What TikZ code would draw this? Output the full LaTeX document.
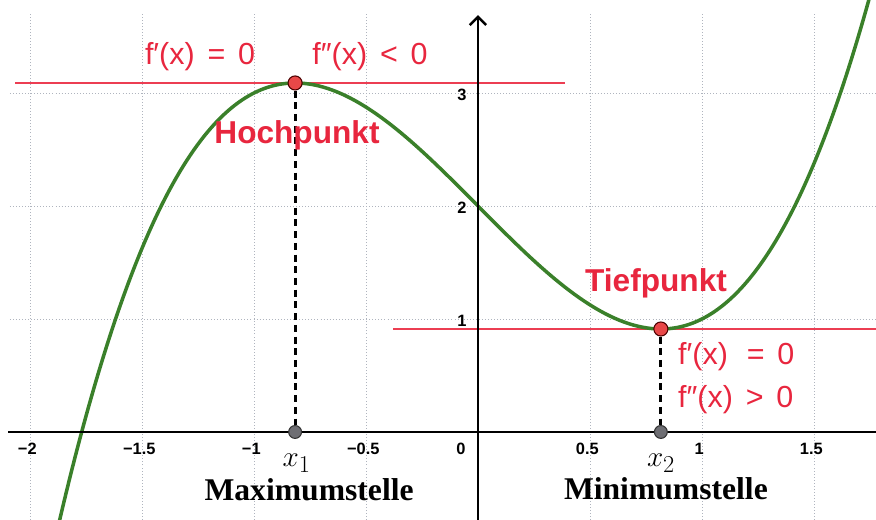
\documentclass[tikz,border=0pt]{standalone}
\usepackage{fontspec}
\setmainfont{Liberation Serif}
\setsansfont{Liberation Sans}
\usetikzlibrary{arrows.meta}
\definecolor{curvegreen}{RGB}{58,128,42}
\definecolor{linered}{RGB}{236,62,82}
\definecolor{textred}{RGB}{232,38,62}
\definecolor{ptred}{RGB}{232,72,72}
\definecolor{ptgrey}{RGB}{110,110,115}
\definecolor{gridgrey}{RGB}{175,180,190}
\newcommand{\gapsp}{\hspace{0.42em}}
\tikzset{
  gridline/.style={gridgrey, line width=0.6pt, dotted},
  tangent/.style={linered, line width=2pt},
  curve/.style={curvegreen, line width=3pt},
  axis/.style={black, line width=2.4pt},
  dashline/.style={black, line width=2.6pt, dash pattern=on 6pt off 4pt},
  extpt/.style={circle, draw=black!70!red, line width=0.9pt, fill=ptred, minimum size=12pt, inner sep=0pt},
  axpt/.style={circle, draw=black!80, line width=0.9pt, fill=ptgrey, minimum size=11pt, inner sep=0pt},
  ticklab/.style={font=\sffamily\bfseries\fontsize{14}{15}\selectfont, inner sep=0pt},
  formula/.style={textred, font=\sffamily\fontsize{26}{28}\selectfont, inner sep=0pt},
  ptname/.style={textred, font=\sffamily\bfseries\fontsize{27}{29}\selectfont, inner sep=0pt},
  xname/.style={font=\fontsize{31}{33}\selectfont, inner sep=0pt},
  stelle/.style={font=\rmfamily\bfseries\fontsize{27}{29}\selectfont, inner sep=0pt}
}
\begin{document}
\begin{tikzpicture}[x=6.72cm, y=3.39cm]
\useasboundingbox (-2.134,-0.779) rectangle (1.777,3.823);
\begin{scope}
\clip (-2.134,-0.779) rectangle (1.777,3.823);
% grid
\foreach \gx in {-2,-1.5,-1,-0.5,0.5,1,1.5}
  \draw[gridline] (\gx,-0.779) -- (\gx,3.70);
\foreach \gy in {1,2,3}
  \draw[gridline] (-2.09,\gy) -- (1.777,\gy);
% tangents
\coordinate (t1a) at (-2.067,3.0887);
\coordinate (t1b) at (0.388,3.0887);
\coordinate (t2a) at (-0.379,0.9113);
\coordinate (t2b) at (1.78,0.9113);
\draw[tangent] (t1a) -- (t1b);
\draw[tangent] (t2a) -- (t2b);
% curve
\draw[curve] plot[domain=-1.88:1.76, samples=160, smooth] (\x, {\x*\x*\x - 2*\x + 2});
% axes
\coordinate (xa) at (-2.098,0);
\coordinate (xb) at (1.78,0);
\coordinate (ya) at (0,-0.78);
\coordinate (yb) at (0,3.69);
\draw[axis] (xa) -- (xb);
\draw[axis, -{Straight Barb[length=7pt, width=14pt, line width=2.2pt]}] (ya) -- (yb);
\end{scope}
% tick labels
\foreach \gx/\lab in {-2/{−2},-1.5/{−1.5},-1/{−1},-0.5/{−0.5},0.5/{0.5},1/{1},1.5/{1.5}}
  \node[ticklab] (tick\gx) at ([xshift=-0.08cm]\gx,-0.15) {\lab};
\node[ticklab] (tick0) at (-0.076,-0.15) {0};
\foreach \gy in {1,2,3}
  \node[ticklab, anchor=east] (ytick\gy) at (-0.05,\gy-0.02) {\gy};
% extremum points
\node[extpt] (hp) at (-0.8165,3.0887) {};
\node[extpt] (tp) at (0.8165,0.9113) {};
\node[axpt] (x1pt) at (-0.8165,0) {};
\node[axpt] (x2pt) at (0.8165,0) {};
\draw[dashline] (hp) -- (x1pt);
\draw[dashline] (tp) -- (x2pt);
% labels
\node[formula] (fmax1) at (-1.241,3.319) {f′(x)\gapsp=\gapsp0};
\node[formula] (fmax2) at (-0.482,3.319) {f″(x)\gapsp<\gapsp0};
\node[ptname] (hoch) at (-0.808,2.628) {Hochpunkt};
\node[ptname] (tief) at (0.795,1.319) {Tiefpunkt};
\node[formula, anchor=west] (fmin1) at (0.893,0.664) {f′(x)\gapsp\hspace{0.2em}=\gapsp0};
\node[formula, anchor=west] (fmin2) at (0.893,0.283) {f″(x)\gapsp>\gapsp0};
\node[xname] (x1) at (-0.81,-0.274) {$x_1$};
\node[xname] (x2) at (0.817,-0.274) {$x_2$};
\node[stelle] (maxs) at (-0.754,-0.513) {Maximumstelle};
\node[stelle] (mins) at (0.839,-0.504) {Minimumstelle};
\end{tikzpicture}
\end{document}
